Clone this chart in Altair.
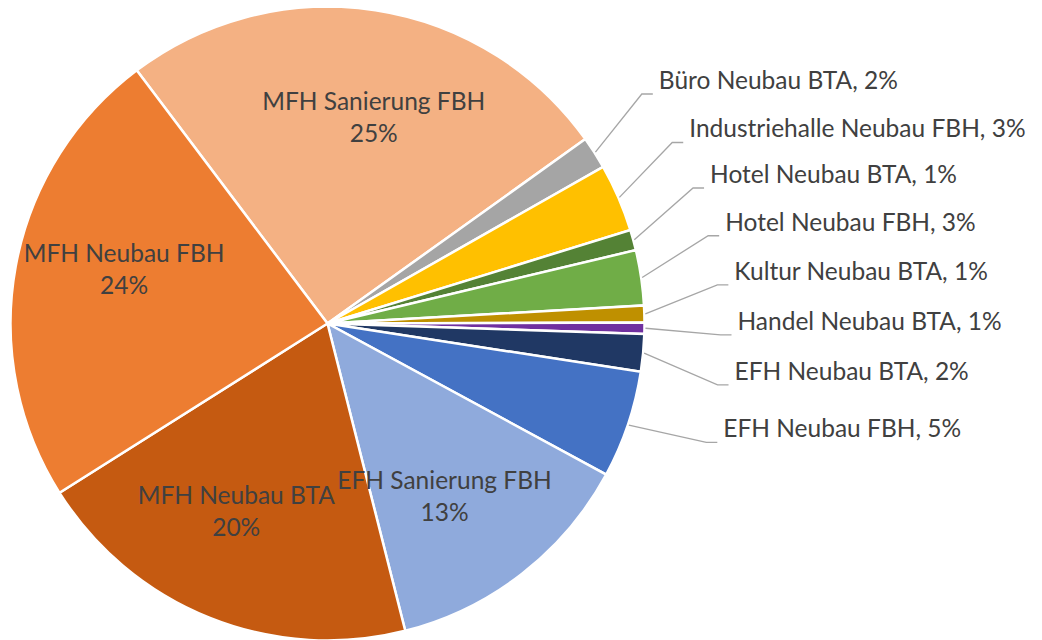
import math
import altair as alt
import pandas as pd

# ---------------- data ----------------
categories = [
    "MFH Sanierung FBH", "Büro Neubau BTA", "Industriehalle Neubau FBH",
    "Hotel Neubau BTA", "Hotel Neubau FBH", "Kultur Neubau BTA",
    "Handel Neubau BTA", "EFH Neubau BTA", "EFH Neubau FBH",
    "EFH Sanierung FBH", "MFH Neubau BTA", "MFH Neubau FBH",
]
shares = [25.3, 1.65, 3.45, 1.04, 2.8, 0.85, 0.58, 1.9, 5.45, 13.1, 19.9, 23.6]
label_inside = [True, False, False, False, False, False, False, False, False, True, True, True]

# ---------------- style / layout ----------------
colors = ["#F4B183", "#A5A5A5", "#FFC000", "#548235", "#70AD47", "#BF9000",
          "#7030A0", "#203864", "#4472C4", "#8FAADC", "#C55A11", "#ED7D31"]
W, H = 1026, 632
CX, CY = 319.5, 315.5
R = 316
START_DEG = -37.0
INNER_R, INNER_ROT = 210, 4.0
OUTER_R, OUTER_ROT, OUTER_GAP = 410, -3.5, 7.0
TEXT_COLOR = "#404040"
FONT = "Lato"
FS = 24.5
LH = 32

total = sum(shares)
rows = []
cum = 0.0
for i, (c, v) in enumerate(zip(categories, shares)):
    a0 = START_DEG + cum / total * 360
    a1 = a0 + v / total * 360
    cum += v
    pct = round(v / total * 100)
    rows.append(dict(idx=i, category=c, value=v, mid=(a0 + a1) / 2, pct=pct,
                     inside=label_inside[i]))
df = pd.DataFrame(rows)


def spread(angles, gap):
    clusters = [[a] for a in angles]
    changed = True
    while changed:
        changed = False
        spans = []
        for cl in clusters:
            m = sum(cl) / len(cl)
            spans.append((m - gap * (len(cl) - 1) / 2, m + gap * (len(cl) - 1) / 2))
        for i in range(len(clusters) - 1):
            if spans[i + 1][0] - spans[i][1] < gap:
                clusters[i] = clusters[i] + clusters[i + 1]
                del clusters[i + 1]
                changed = True
                break
    out = []
    for cl in clusters:
        m = sum(cl) / len(cl)
        n = len(cl)
        out += [m + gap * (k - (n - 1) / 2) for k in range(n)]
    return out


def px(r, deg):
    a = math.radians(deg)
    return CX + r * math.sin(a), CY - r * math.cos(a)


# inside labels
inner_rows = []
for _, r in df[df.inside].iterrows():
    x, y = px(INNER_R, r.mid + INNER_ROT)
    inner_rows.append(dict(category=r.category, x=x, y=y,
                           text=f"{r.category}\n{r.pct}%"))
inner_df = pd.DataFrame(inner_rows)

# outside labels with leader lines
outer = df[~df.inside].reset_index(drop=True)
lab_angles = spread(list(outer.mid), OUTER_GAP)
outer_rows, line_rows = [], []
for k, r in outer.iterrows():
    lx, ly = px(OUTER_R, lab_angles[k] + OUTER_ROT)
    outer_rows.append(dict(category=r.category, x=lx, y=ly,
                           text=f"{r.category}, {r.pct}%"))
    sx, sy = px(R + 2, r.mid)
    line_rows += [
        dict(category=r.category, pt=0, x=sx, y=sy),
        dict(category=r.category, pt=1, x=lx - 17, y=ly + 12),
        dict(category=r.category, pt=2, x=lx - 6, y=ly + 12),
    ]
outer_df = pd.DataFrame(outer_rows)
line_df = pd.DataFrame(line_rows)

arc = alt.Chart(df).mark_arc(outerRadius=R + 1, stroke="white", strokeWidth=2.5).encode(
    theta=alt.Theta("value:Q", stack=True,
                    scale=alt.Scale(range=[math.radians(360 + START_DEG),
                                           math.radians(720 + START_DEG)])),
    color=alt.Color("category:N", scale=alt.Scale(domain=categories, range=colors),
                    legend=None),
    order=alt.Order("idx:Q"),
    x=alt.value(CX),
    y=alt.value(CY),
)

lines = alt.Chart(line_df).mark_line(color="#A6A6A6", strokeWidth=1.3).encode(
    x=alt.X("x:Q", scale=None, axis=None),
    y=alt.Y("y:Q", scale=None, axis=None),
    detail="category:N",
    order="pt:Q",
)

outer_text = alt.Chart(outer_df).mark_text(
    font=FONT, fontSize=FS, color=TEXT_COLOR, align="left", baseline="middle"
).encode(
    x=alt.X("x:Q", scale=None, axis=None),
    y=alt.Y("y:Q", scale=None, axis=None),
    text="text:N",
)

inner_text = alt.Chart(inner_df).mark_text(
    font=FONT, fontSize=FS, color=TEXT_COLOR, align="center", baseline="middle",
    lineBreak="\n", lineHeight=LH, dy=-LH / 2
).encode(
    x=alt.X("x:Q", scale=None, axis=None),
    y=alt.Y("y:Q", scale=None, axis=None),
    text="text:N",
)

chart = alt.layer(arc, lines, outer_text, inner_text).properties(
    width=W, height=H, padding=0,
    autosize=alt.AutoSizeParams(type="none"),
    background="white",
).configure_view(stroke=None)

chart.save("out.html", embed_options={"renderer": "svg", "actions": False})
